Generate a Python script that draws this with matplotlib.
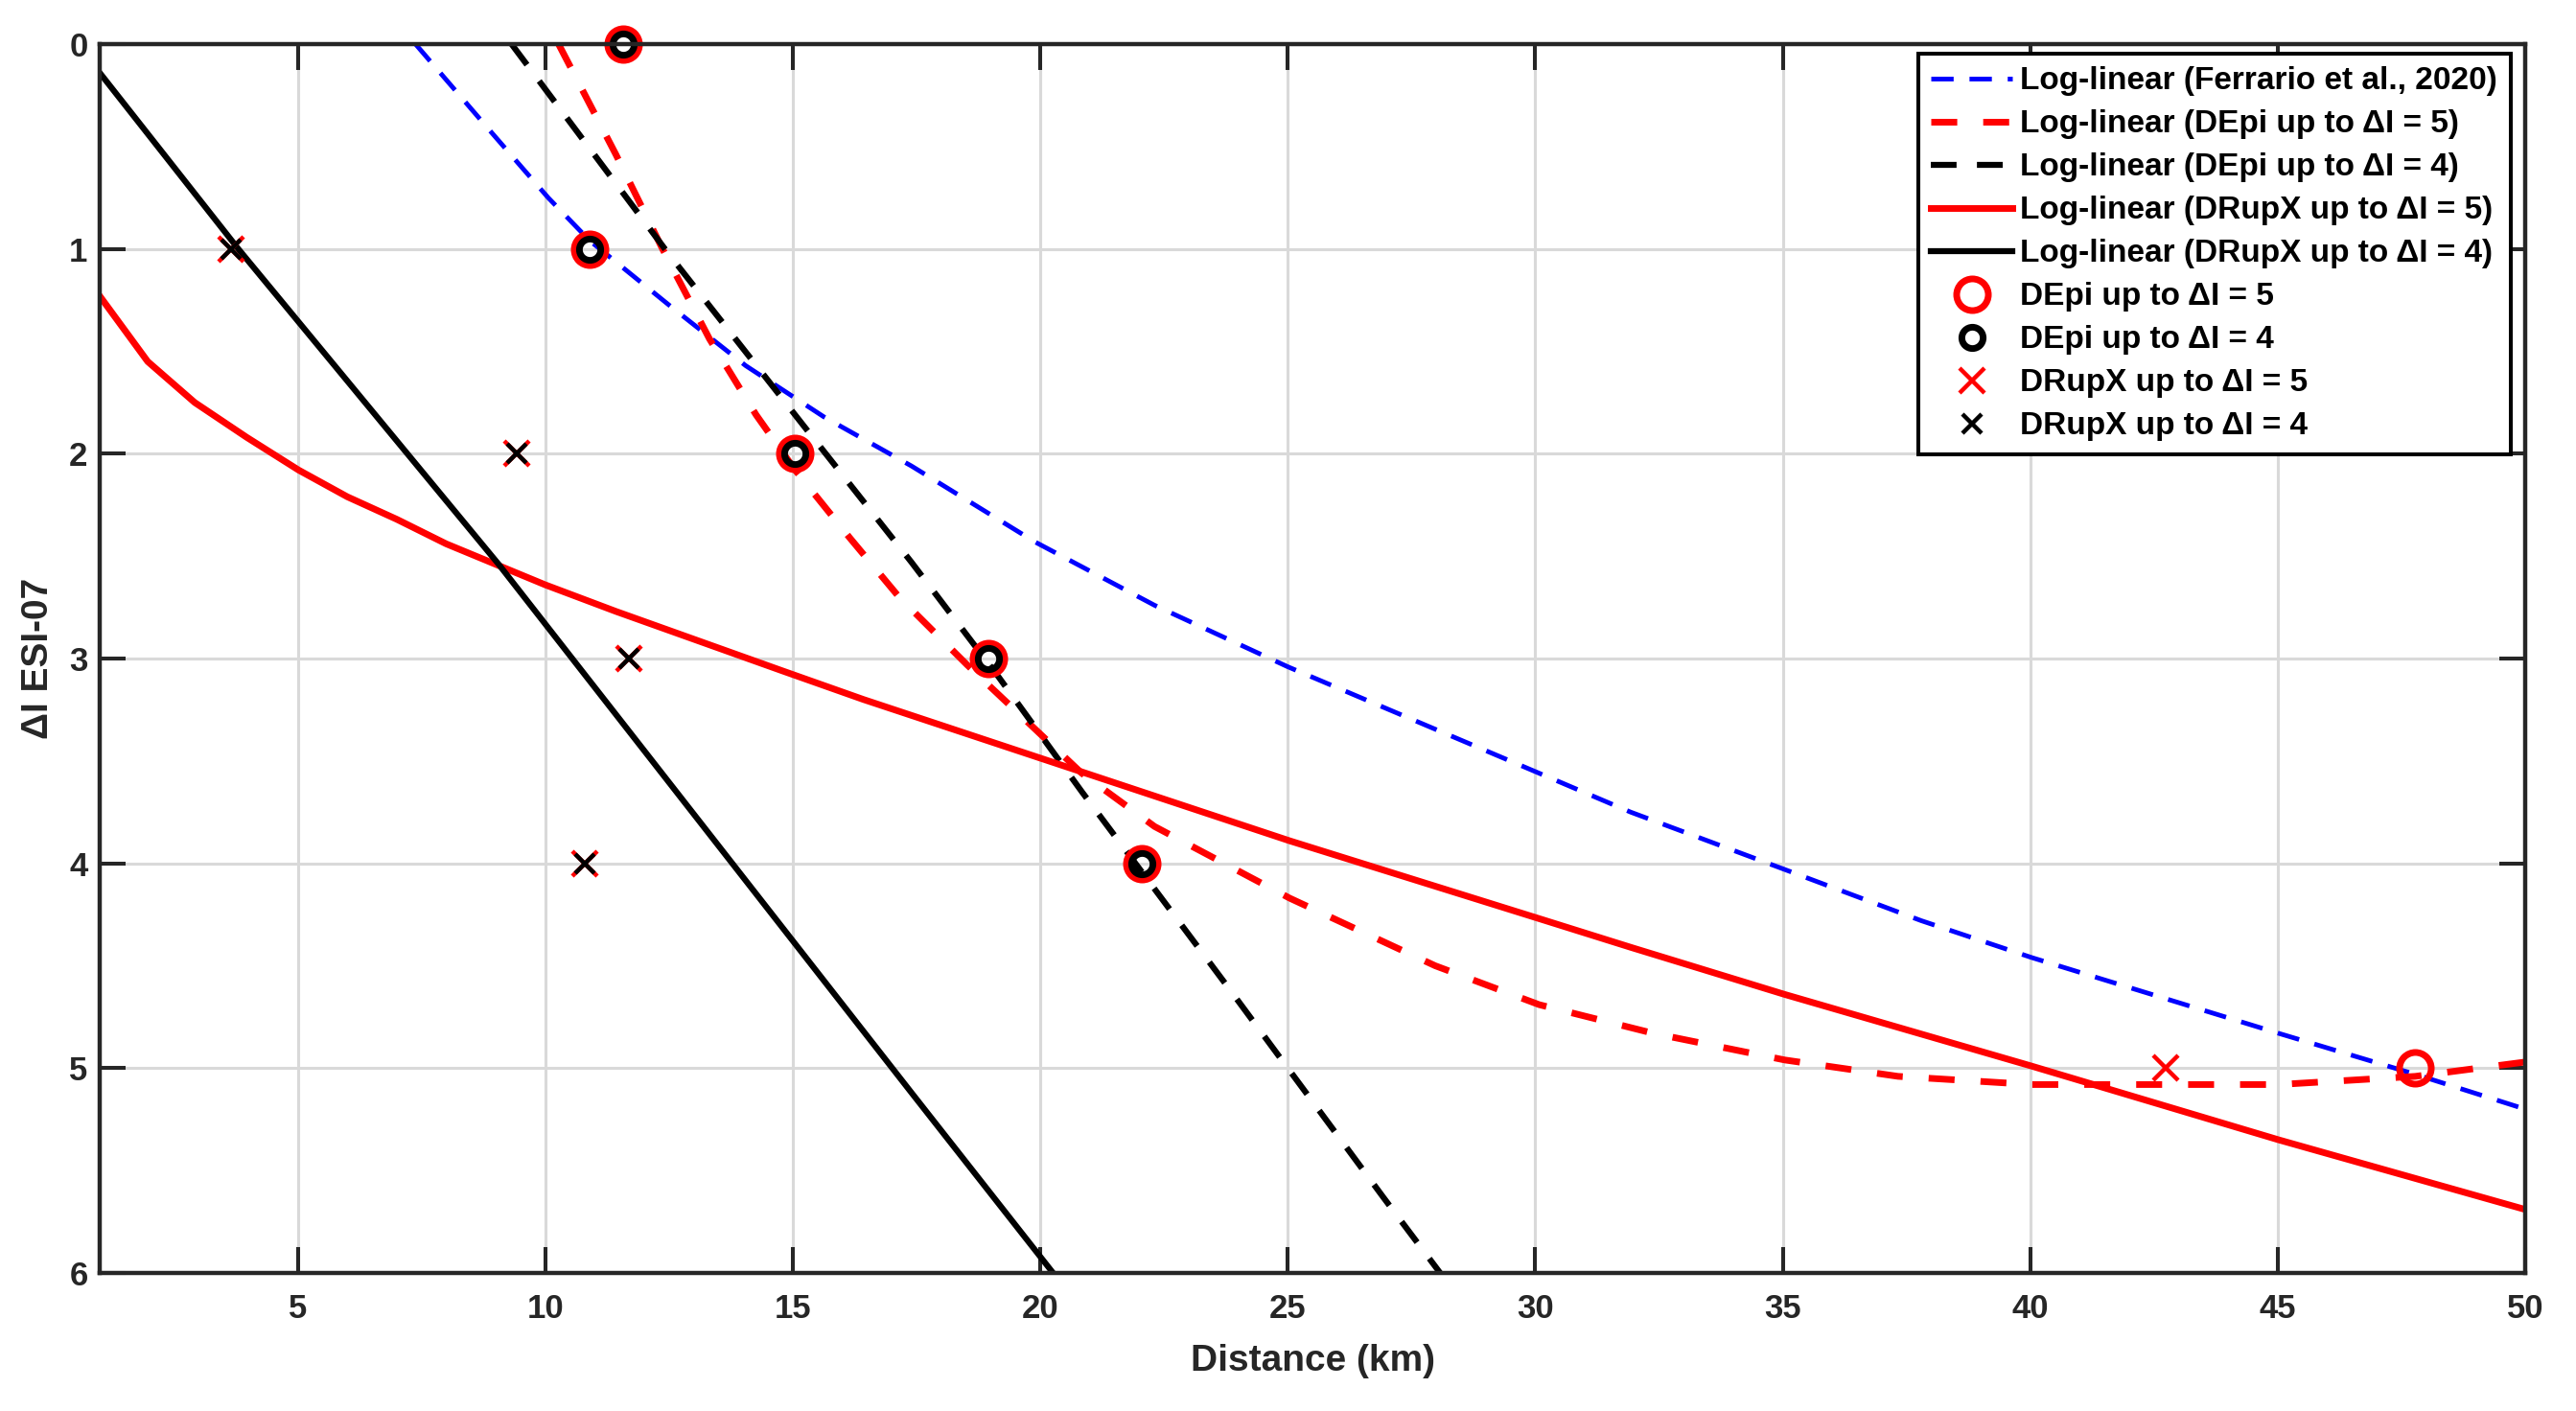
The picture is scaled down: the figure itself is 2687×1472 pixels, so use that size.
import matplotlib
matplotlib.use('Agg')
import matplotlib.pyplot as plt

plt.rcParams['font.family'] = ['Liberation Sans', 'DejaVu Sans']
plt.rcParams['font.weight'] = 'bold'
plt.rcParams['axes.labelweight'] = 'bold'

# values
ferrario_dist = [7.38, 8.91, 10.06, 10.9, 12.48, 14.05, 15.63, 17.4, 19.89, 22.31, 25.0,
                 30.08, 31.93, 35.04, 37.8, 40.03, 45.02, 47.78, 50.0]
ferrario_di = [0.0, 0.43, 0.75, 0.96, 1.27, 1.57, 1.82, 2.06, 2.43, 2.74, 3.04,
               3.56, 3.75, 4.03, 4.28, 4.46, 4.83, 5.03, 5.20]

depi5_dist = [10.27, 11.43, 12.37, 13.32, 14.26, 15.05, 16.15, 17.15, 18.52, 20.84, 22.31,
              25.04, 27.98, 30.08, 32.39, 35.04, 37.33, 40.03, 42.5, 45.02, 47.78, 50.0]
depi5_di = [0.0, 0.54, 1.0, 1.44, 1.81, 2.08, 2.41, 2.70, 3.03, 3.56, 3.82,
            4.17, 4.50, 4.69, 4.83, 4.96, 5.04, 5.08, 5.08, 5.08, 5.04, 4.97]

depi4_dist = [9.32, 12.48, 15.21, 17.4, 19.16, 20.84, 23.78, 26.93, 28.08]
depi4_di = [0.0, 1.02, 1.86, 2.53, 3.09, 3.65, 4.60, 5.63, 6.0]

drupx5_dist = [1.0, 1.97, 2.92, 3.97, 5.02, 6.0, 7.0, 8.0, 9.0, 10.0, 11.43, 14.79, 16.43,
               25.04, 30.08, 31.93, 35.04, 40.03, 45.02, 50.0]
drupx5_di = [1.23, 1.55, 1.75, 1.92, 2.08, 2.21, 2.32, 2.44, 2.54, 2.64, 2.77, 3.06, 3.20,
             3.89, 4.27, 4.41, 4.64, 4.99, 5.35, 5.69]

drupx4_dist = [1.0, 3.8, 9.06, 10.74, 17.4, 20.26]
drupx4_di = [0.14, 1.0, 2.54, 3.06, 5.12, 6.0]

# observed points
obs_depi5_d = [11.58, 10.9, 15.05, 18.95, 22.05, 47.78]
obs_depi5_i = [0, 1, 2, 3, 4, 5]
obs_depi4_d = [11.58, 10.9, 15.05, 18.95, 22.05]
obs_depi4_i = [0, 1, 2, 3, 4]
obs_drupx5_d = [3.65, 9.43, 11.69, 10.8, 42.73]
obs_drupx5_i = [1, 2, 3, 4, 5]
obs_drupx4_d = [3.65, 9.43, 11.69, 10.8]
obs_drupx4_i = [1, 2, 3, 4]

W, H = 2687, 1472
fig = plt.figure(figsize=(W / 100, H / 100), dpi=100)
ax = fig.add_axes([104 / W, 1 - 1328 / H, 2530 / W, 1282 / H])

dark = '#262626'

ax.plot(ferrario_dist, ferrario_di, color='#0000ff', lw=3.5, dashes=(4.8, 3.4),
        label='Log-linear (Ferrario et al., 2020)')
ax.plot(depi5_dist, depi5_di, color='#ff0000', lw=5, dashes=(3.9, 3.9),
        label='Log-linear (DEpi up to ΔI = 5)')
ax.plot(depi4_dist, depi4_di, color='black', lw=4.5, dashes=(4.3, 3.4),
        label='Log-linear (DEpi up to ΔI = 4)')
ax.plot(drupx5_dist, drupx5_di, color='#ff0000', lw=5,
        label='Log-linear (DRupX up to ΔI = 5)')
ax.plot(drupx4_dist, drupx4_di, color='black', lw=4.5,
        label='Log-linear (DRupX up to ΔI = 4)')

ax.plot(obs_depi5_d, obs_depi5_i, ls='none', marker='o', ms=23.8, mew=5,
        mec='#ff0000', mfc='none', clip_on=False, label='DEpi up to ΔI = 5')
ax.plot(obs_depi4_d, obs_depi4_i, ls='none', marker='o', ms=16, mew=5,
        mec='black', mfc='none', clip_on=False, label='DEpi up to ΔI = 4')
ax.plot(obs_drupx5_d, obs_drupx5_i, ls='none', marker='x', ms=18.7, mew=3.2,
        mec='#ff0000', clip_on=False, label='DRupX up to ΔI = 5')
ax.plot(obs_drupx4_d, obs_drupx4_i, ls='none', marker='x', ms=13.7, mew=3.2,
        mec='black', clip_on=False, label='DRupX up to ΔI = 4')

ax.set_xlim(1, 50)
ax.set_ylim(6, 0)
ax.set_xticks(range(5, 51, 5))
ax.set_yticks(range(0, 7))
ax.grid(True, color='#d9d9d9', lw=2.2)
ax.set_axisbelow(True)

for sp in ax.spines.values():
    sp.set_linewidth(3.2)
    sp.set_color(dark)
ax.tick_params(direction='in', length=19.4, width=2.9, color=dark,
               top=True, right=True, labelsize=25, labelcolor=dark)
ax.tick_params(axis='x', pad=15)
ax.tick_params(axis='y', pad=9)

ax.set_xlabel('Distance (km)', fontsize=28, fontweight='bold', color=dark, va='center')
ax.set_ylabel('ΔI ESI-07', fontsize=28, fontweight='bold', color=dark, va='center')
ax.xaxis.set_label_coords(0.5, -0.0718)
ax.yaxis.set_label_coords(-0.0251, 0.5)

leg = ax.legend(loc='upper right', bbox_to_anchor=(0.9939, 0.9922),
                borderaxespad=0, fontsize=24, handlelength=2.55,
                handletextpad=0.25, labelspacing=0.42, borderpad=0.4,
                fancybox=False, framealpha=1, edgecolor='black', numpoints=1)
leg.get_frame().set_linewidth(2.9)
for t in leg.get_texts():
    t.set_color('black')

fig.savefig('out.png', dpi=100, facecolor='white')
